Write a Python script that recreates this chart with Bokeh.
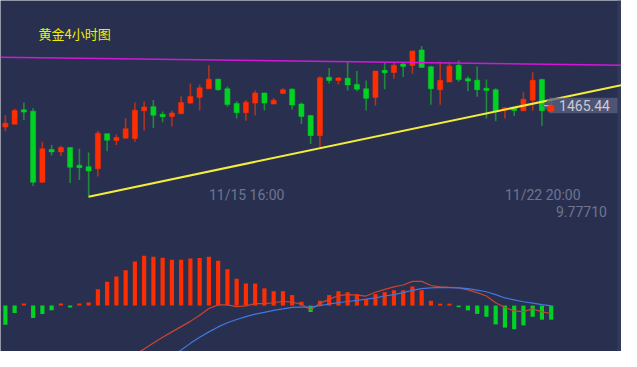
from bokeh.plotting import figure
from bokeh.models import Range1d, Label, BoxAnnotation
from bokeh.embed import file_html
from bokeh.resources import INLINE
from bokeh.core.properties import value

nan = float("nan")

# ---- data ----
opens = [1460.98, 1461.58, 1464.58, 1464.30, 1449.44, 1456.30, 1455.78, 1456.70, 1452.90, 1452.70,
         1452.24, 1459.58, 1458.18, 1458.64, 1458.58, 1464.38, 1465.24, 1463.58, 1463.18, 1463.78,
         1465.98, 1467.18, 1468.98, 1470.98, 1468.98, 1465.90, 1463.98, 1465.98, 1468.10, 1465.78,
         1467.98, 1468.90, 1465.78, 1463.38, 1459.18, 1471.38, 1470.78, 1471.18, 1469.90, 1468.98,
         1467.18, 1472.78, 1472.38, 1474.10, 1473.84, 1477.10, 1473.58, 1468.78, 1470.38, 1473.90,
         1471.10, 1470.78, 1469.10, 1468.78, 1464.58, 1464.90, 1464.38, 1466.58, 1470.90, 1464.30]
highs = [1463.44, 1464.78, 1466.10, 1464.90, 1457.90, 1457.24, 1457.04, 1456.70, 1456.44, 1455.64,
         1460.18, 1459.58, 1459.44, 1462.84, 1466.10, 1466.30, 1466.64, 1464.24, 1464.38, 1467.44,
         1470.10, 1469.90, 1473.90, 1471.10, 1469.44, 1466.38, 1466.64, 1468.64, 1468.10, 1467.04,
         1469.10, 1469.10, 1466.10, 1463.38, 1471.58, 1473.30, 1471.44, 1474.58, 1472.70, 1470.70,
         1472.70, 1474.44, 1474.44, 1474.44, 1476.90, 1477.90, 1473.78, 1474.64, 1474.64, 1474.90,
         1471.58, 1473.64, 1470.90, 1469.10, 1465.04, 1465.10, 1468.24, 1472.44, 1471.10, 1467.10]
lows = [1460.10, 1461.58, 1462.44, 1448.64, 1449.30, 1455.04, 1454.90, 1449.30, 1449.90, 1446.30,
        1450.64, 1455.90, 1457.24, 1458.64, 1457.90, 1460.30, 1460.78, 1461.98, 1461.10, 1463.78,
        1465.78, 1464.44, 1468.98, 1468.58, 1465.24, 1462.78, 1462.30, 1463.44, 1464.44, 1465.78,
        1467.98, 1464.64, 1461.64, 1457.44, 1456.78, 1470.10, 1469.90, 1468.64, 1468.44, 1464.44,
        1465.44, 1468.90, 1471.10, 1471.44, 1472.10, 1473.44, 1465.64, 1465.64, 1470.38, 1470.44,
        1468.44, 1467.30, 1462.78, 1462.24, 1462.78, 1463.30, 1464.38, 1464.38, 1461.24, 1464.30]
closes = [1461.78, 1464.44, 1464.10, 1449.44, 1456.44, 1455.78, 1456.70, 1452.58, 1452.58, 1451.78,
          1459.70, 1458.24, 1458.78, 1460.64, 1464.50, 1465.18, 1463.44, 1463.18, 1463.90, 1466.10,
          1467.38, 1469.18, 1470.98, 1468.78, 1465.70, 1463.98, 1466.18, 1468.10, 1465.98, 1466.58,
          1468.78, 1465.58, 1463.18, 1459.18, 1471.30, 1470.70, 1471.18, 1469.78, 1468.90, 1466.98,
          1472.70, 1472.38, 1473.90, 1473.70, 1476.90, 1473.44, 1468.98, 1470.78, 1473.70, 1470.90,
          1470.58, 1468.78, 1468.64, 1464.24, 1464.90, 1464.44, 1466.78, 1470.78, 1464.38, 1465.44]

macd_hist = [-2.0, -0.77, 0.23, -1.3, -0.87, -0.5, 0.23, -0.2, 0.23, 0.33,
             1.7, 2.5, 3.03, 3.7, 4.6, 5.2, 5.1, 5.0, 4.8, 4.8,
             4.93, 4.97, 5.1, 4.7, 3.8, 2.8, 2.3, 2.3, 1.8, 1.5,
             1.5, 1.1, 0.4, -0.67, 0.5, 1.1, 1.5, 1.4, 1.2, 0.7,
             1.2, 1.4, 1.6, 1.6, 2.0, 1.6, 0.5, 0.2, 0.2, -0.17,
             -0.5, -0.87, -1.17, -1.97, -2.3, -2.47, -2.07, -1.17, -1.47, -1.47]
dif = [nan] * 12 + [-6.6, -5.8, -5.1, -4.55, -3.9, -3.3, -2.75, -2.2,
                    -1.65, -1.0, -0.3, 0.07, 0.07, -0.1, -0.03, 0.2, 0.2, 0.3,
                    0.45, 0.35, 0.15, -0.43, 0.23, 0.65, 1.05, 1.15, 1.1, 1.0,
                    1.4, 1.7, 1.95, 2.15, 2.53, 2.53, 2.1, 1.95, 1.9, 1.85,
                    1.65, 1.35, 1.0, 0.3, -0.2, -0.55, -0.63, -0.35, -0.65, -0.83]
dea = [nan] * 17 + [-6.1, -5.3, -4.65,
                    -3.95, -3.3, -2.75, -2.23, -1.8, -1.45, -1.15, -0.9, -0.7, -0.5,
                    -0.35, -0.18, -0.15, -0.15, 0.0, 0.17, 0.3, 0.43, 0.55, 0.67,
                    0.8, 1.0, 1.15, 1.35, 1.6, 1.78, 1.85, 1.9, 1.88, 1.85,
                    1.77, 1.62, 1.45, 1.15, 0.8, 0.6, 0.4, 0.25, 0.1, -0.03]

support_x = [9, 66.6]
support_y = [1446.42, 1469.75]
resist_x = [-0.53, 66.6]
resist_y = [1475.58, 1473.89]

tick_idx = [22, 54]
tick_labels = ["11/15 16:00", "11/22 20:00"]
title_text = "黄金4小时图"
macd_label = "9.77710"

# ---- styling ----
BG = "#29304f"
UP = "#ff2e00"
UP_WICK = "#b3321e"
DN = "#00d422"
DN_WICK = "#1e8a3a"

W, H = 621, 351
n = len(closes)
xs = list(range(n))

p = figure(width=W, height=H, output_backend="svg", toolbar_location=None,
           x_range=Range1d(-0.527, 66.6), y_range=Range1d(1414.04, 1487.44),
           min_border=0, min_border_left=0, min_border_right=0,
           min_border_top=0, min_border_bottom=0)
p.extra_y_ranges = {"macd": Range1d(-4.8, 31.9)}
p.axis.visible = False
p.xgrid.visible = False
p.ygrid.visible = False
p.outline_line_color = None
p.background_fill_color = BG
p.border_fill_color = BG

# right edge strip
p.add_layout(BoxAnnotation(left=66.17, fill_color="#323a5a", fill_alpha=1.0,
                           line_color=None, level="underlay"))

# candles
up = [c >= o for o, c in zip(opens, closes)]
wick_col = [UP_WICK if u else DN_WICK for u in up]
body_col = [UP if u else DN for u in up]
btop, bbot = [], []
for o, c in zip(opens, closes):
    t, b = max(o, c), min(o, c)
    if t - b < 0.45:
        m = (t + b) / 2
        t, b = m + 0.25, m - 0.25
    btop.append(t)
    bbot.append(b)

p.segment(x0=xs, y0=highs, x1=xs, y1=lows, line_color=wick_col, line_width=1.6)
p.vbar(x=xs, top=btop, bottom=bbot, width=0.55, fill_color=body_col,
       line_color=body_col, line_width=0.5)

# MACD histogram
hcol = [UP if v >= 0 else DN for v in macd_hist]
p.vbar(x=xs, top=macd_hist, bottom=0, width=0.45, fill_color=hcol, line_color=None,
       y_range_name="macd")
p.line(xs, dif, line_color="#c9452f", line_width=1.2, y_range_name="macd")
p.line(xs, dea, line_color="#4177e0", line_width=1.2, y_range_name="macd")

# trend lines
p.line(resist_x, resist_y, line_color="#d416d8", line_width=1.5)
p.line(support_x, support_y, line_color="#f4ee3a", line_width=2)

# last price tag
last = closes[-1]
lx = n - 1
tag_x = [lx - 1.0, lx - 0.15, 66.17, 66.17, lx - 0.15]
tag_y = [last, last + 1.66, last + 1.66, last - 1.6, last - 1.6]
p.patch(tag_x, tag_y, fill_color="#5a6080", fill_alpha=0.75, line_color=None)
p.segment(x0=[lx - 0.8], y0=[last], x1=[lx], y1=[last], line_color="#c8cad8", line_width=1)
p.vbar(x=[lx], top=[btop[-1]], bottom=[bbot[-1]], width=0.55, fill_color=UP, line_color=UP)
p.add_layout(Label(x=lx + 0.85, y=last, text=f"{last:.2f}", text_align="left",
                   text_baseline="middle", text_color="#c9cbd8", text_font_size="14px",
                   text_font="Roboto"))

# time labels
for i, t in zip(tick_idx, tick_labels):
    p.add_layout(Label(x=i, y=H - 203 * H / 367, y_units="screen", text=t,
                       text_align="left", text_baseline="middle", text_color="#6e7491",
                       text_font_size="14px", text_font="Roboto"))

p.add_layout(Label(x=622 * W / 637, y=H - 221 * H / 367, x_units="screen", y_units="screen",
                   text=macd_label, text_align="right", text_baseline="middle",
                   text_color="#6e7491", text_font_size="14px", text_font="Roboto"))

p.add_layout(Label(x=39 * W / 637, y=H - 35 * H / 367, x_units="screen", y_units="screen",
                   text=title_text, text_align="left", text_baseline="middle",
                   text_color="#f2ee00", text_font_size="13px",
                   text_font="Noto Sans CJK SC"))

open("out.html", "w").write(file_html(p, INLINE))
